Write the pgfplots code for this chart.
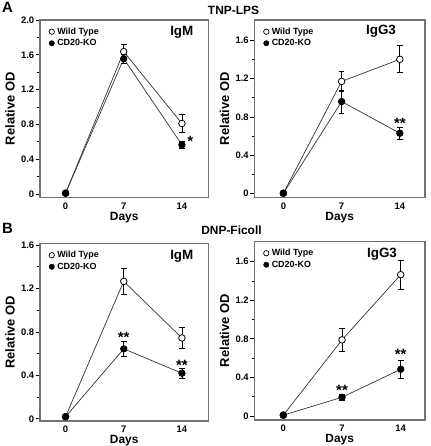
\documentclass[border=0pt]{standalone}
\usepackage{pgfplots}
\usepackage{pgfplotstable}
\pgfplotsset{compat=1.18}
\usepackage{fontspec}
\setmainfont{Liberation Sans}

\pgfplotstableread{
x y e
0 0.01 0
7 1.636 0.08
14 0.81 0.10
}\ALwt
\pgfplotstableread{
x y e
0 0.01 0
7 1.555 0.05
14 0.565 0.035
}\ALko
\pgfplotstableread{
x y e
0 0.005 0
7 1.17 0.10
14 1.40 0.14
}\ARwt
\pgfplotstableread{
x y e
0 0.005 0
7 0.96 0.12
14 0.63 0.06
}\ARko
\pgfplotstableread{
x y e
0 0.02 0
7 1.266 0.12
14 0.745 0.10
}\BLwt
\pgfplotstableread{
x y e
0 0.02 0
7 0.645 0.07
14 0.42 0.045
}\BLko
\pgfplotstableread{
x y e
0 0.01 0
7 0.79 0.12
14 1.465 0.15
}\BRwt
\pgfplotstableread{
x y e
0 0.01 0
7 0.195 0.03
14 0.485 0.09
}\BRko

\tikzset{
  star/.style={anchor=base, inner sep=0pt, font=\fontsize{15}{15}\selectfont\bfseries},
  iglab/.style={anchor=north east, inner sep=0pt, font=\fontsize{13.5}{14}\selectfont\bfseries},
}
\pgfplotsset{
  panel/.style={
    scale only axis,
    anchor=north west,
    xtick={0,7,14}, xticklabels={0,7,14},
    xtick style={draw=none},
    ytick pos=left, tick align=outside,
    minor y tick num=1,
    major tick length=4bp, minor tick length=2.5bp,
    every tick/.style={black, line width=0.8bp},
    axis line style={draw=black!55, line width=1.2bp},
    ticklabel style={font=\fontsize{9.5}{10}\selectfont\bfseries},
    xticklabel style={inner sep=0pt, yshift=-1bp},
    yticklabel style={inner sep=0pt, xshift=-1.5bp},
    xlabel={Days}, ylabel={Relative OD},
    xlabel style={font=\fontsize{12}{12}\selectfont\bfseries, inner sep=0pt, yshift=-2.2bp},
    ylabel style={font=\fontsize{13}{13}\selectfont\bfseries, inner sep=0pt, at={(rel axis cs:-0.148,0.5)}, anchor=south},
    legend style={at={(rel axis cs:0,1)}, anchor=north west, xshift=6bp, yshift=-5bp,
      draw=none, fill=none, font=\fontsize{9}{10}\selectfont\bfseries,
      nodes={inner sep=0.6bp}, row sep=2.5bp, column sep=2.2bp},
    legend cell align=left,
    legend image code/.code={\draw[mark size=2.7bp,#1] plot coordinates {(0bp,0bp)};},
    clip=false,
  },
  eb/.style={
    error bars/y dir=both, error bars/y explicit,
    error bars/error bar style={black, line width=0.8bp},
    error bars/error mark options={rotate=90, mark size=2.8bp, line width=0.8bp, black}},
  wt/.style={black!80, line width=0.7bp, mark=*, mark size=3.3bp,
    mark options={fill=white, draw=black, line width=0.8bp}, eb},
  ko/.style={black!80, line width=0.7bp, mark=*, mark size=3.3bp,
    mark options={fill=black, draw=black}, eb},
  lwt/.style={only marks, mark=*, mark options={fill=white, draw=black, line width=0.7bp}},
  lko/.style={only marks, mark=*, mark options={fill=black, draw=black}},
}

\begin{document}
\begin{tikzpicture}
\path (0,0) rectangle (431bp,-446bp);

\node[anchor=north west, inner sep=0pt, font=\fontsize{15}{16}\selectfont\bfseries] at (2bp,-2bp) {A};
\node[anchor=base, inner sep=0pt, font=\fontsize{12}{13}\selectfont\bfseries] at (234bp,-14.5bp) {TNP-LPS};
\node[anchor=north west, inner sep=0pt, font=\fontsize{15}{16}\selectfont\bfseries] at (2bp,-224bp) {B};
\node[anchor=base, inner sep=0pt, font=\fontsize{12}{13}\selectfont\bfseries] at (232bp,-235bp) {DNP-Ficoll};

% A left
\begin{axis}[panel, at={(40bp,-20bp)}, width=169bp, height=178bp,
  xmin=-3.085, xmax=17.2, ymin=-0.04, ymax=2.0,
  ytick={0,0.4,0.8,1.2,1.6,2.0}, yticklabels={0,0.4,0.8,1.2,1.6,2.0}]
\addlegendimage{lwt}\addlegendentry{Wild Type}
\addlegendimage{lko}\addlegendentry{CD20-KO}
\addplot[wt, forget plot] table[x=x, y=y, y error=e] {\ALwt};
\addplot[ko, forget plot] table[x=x, y=y, y error=e] {\ALko};
\node[iglab] at ([xshift=-15bp, yshift=-6.5bp]rel axis cs:1,1) {IgM};
\node[star] at (axis cs:15.0,0.55) {*};
\end{axis}

% A right
\begin{axis}[panel, at={(255bp,-20bp)}, width=171bp, height=178bp,
  xmin=-3.48, xmax=17.03, ymin=-0.04, ymax=1.81,
  ytick={0,0.4,0.8,1.2,1.6}, yticklabels={0,0.4,0.8,1.2,1.6},
  ylabel style={at={(rel axis cs:-0.146,0.5)}}]
\addlegendimage{lwt}\addlegendentry{Wild Type}
\addlegendimage{lko}\addlegendentry{CD20-KO}
\addplot[wt, forget plot] table[x=x, y=y, y error=e] {\ARwt};
\addplot[ko, forget plot] table[x=x, y=y, y error=e] {\ARko};
\node[iglab] at ([xshift=-29bp, yshift=-5bp]rel axis cs:1,1) {IgG3};
\node[star] at (axis cs:14,0.68) {**};
\end{axis}

% B left
\begin{axis}[panel, at={(40bp,-244bp)}, width=169bp, height=178bp,
  xmin=-3.085, xmax=17.2, ymin=-0.02, ymax=1.615,
  ytick={0,0.4,0.8,1.2,1.6}, yticklabels={0,0.4,0.8,1.2,1.6}]
\addlegendimage{lwt}\addlegendentry{Wild Type}
\addlegendimage{lko}\addlegendentry{CD20-KO}
\addplot[wt, forget plot] table[x=x, y=y, y error=e] {\BLwt};
\addplot[ko, forget plot] table[x=x, y=y, y error=e] {\BLko};
\node[iglab] at ([xshift=-15bp, yshift=-6.5bp]rel axis cs:1,1) {IgM};
\node[star] at (axis cs:7,0.70) {**};
\node[star] at (axis cs:14,0.445) {**};
\end{axis}

% B right
\begin{axis}[panel, at={(255bp,-242bp)}, width=171bp, height=179bp,
  xmin=-3.45, xmax=16.9, ymin=-0.041, ymax=1.809,
  ytick={0,0.4,0.8,1.2,1.6}, yticklabels={0,0.4,0.8,1.2,1.6},
  ylabel style={at={(rel axis cs:-0.146,0.5)}}]
\addlegendimage{lwt}\addlegendentry{Wild Type}
\addlegendimage{lko}\addlegendentry{CD20-KO}
\addplot[wt, forget plot] table[x=x, y=y, y error=e] {\BRwt};
\addplot[ko, forget plot] table[x=x, y=y, y error=e] {\BRko};
\node[iglab] at ([xshift=-28bp, yshift=-6bp]rel axis cs:1,1) {IgG3};
\node[star] at (axis cs:7,0.215) {**};
\node[star] at (axis cs:14,0.585) {**};
\end{axis}
\end{tikzpicture}
\end{document}
